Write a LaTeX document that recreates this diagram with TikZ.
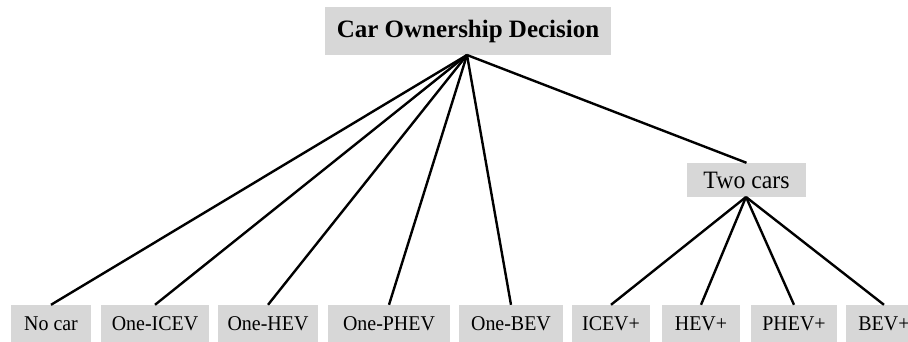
\documentclass[tikz,border=0pt]{standalone}
\usepackage{fontspec}
\setmainfont{Liberation Serif}
\newfontfamily\narrowserif[FakeStretch=0.95]{Liberation Serif}
\definecolor{boxgray}{HTML}{D7D7D7}
\tikzset{
  box/.style={fill=boxgray, inner sep=0pt, anchor=center},
  leaf/.style={box, minimum height=37pt, font=\narrowserif\fontsize{21}{23}\selectfont},
  link/.style={line width=2.4pt, black}
}
\begin{document}
\begin{tikzpicture}[x=1pt,y=-1pt]
\useasboundingbox (0,0) rectangle (908,342);
\clip (0,0) rectangle (908,342);
\node[box, minimum width=286pt, minimum height=48pt, font=\fontsize{25}{28}\selectfont\bfseries] (top) at (468,31) {Car Ownership Decision};
\node[box, minimum width=119pt, minimum height=34pt, font=\narrowserif\fontsize{25}{27}\selectfont] (two) at (746.5,180) {Two cars};
\node[leaf, minimum width=80pt] (nocar) at (51,323.5) {No car};
\node[leaf, minimum width=108pt] (oicev) at (155,323.5) {One-ICEV};
\node[leaf, minimum width=100pt] (ohev) at (268,323.5) {One-HEV};
\node[leaf, minimum width=122pt] (ophev) at (389,323.5) {One-PHEV};
\node[leaf, minimum width=104pt] (obev) at (511,323.5) {One-BEV};
\node[leaf, minimum width=78pt] (icevp) at (611,323.5) {ICEV+};
\node[leaf, minimum width=78pt] (hevp) at (701,323.5) {HEV+};
\node[leaf, minimum width=86pt] (phevp) at (794,323.5) {PHEV+};
\node[leaf, minimum width=76pt] (bevp) at (884,323.5) {BEV+};
\coordinate (apex) at (467,55);
\coordinate (apex2) at (746,197);
\foreach \n in {nocar,oicev,ohev,ophev,obev,two}
  \draw[link] (apex) -- (\n.north);
\foreach \n in {icevp,hevp,phevp,bevp}
  \draw[link] (apex2) -- (\n.north);
\end{tikzpicture}
\end{document}
